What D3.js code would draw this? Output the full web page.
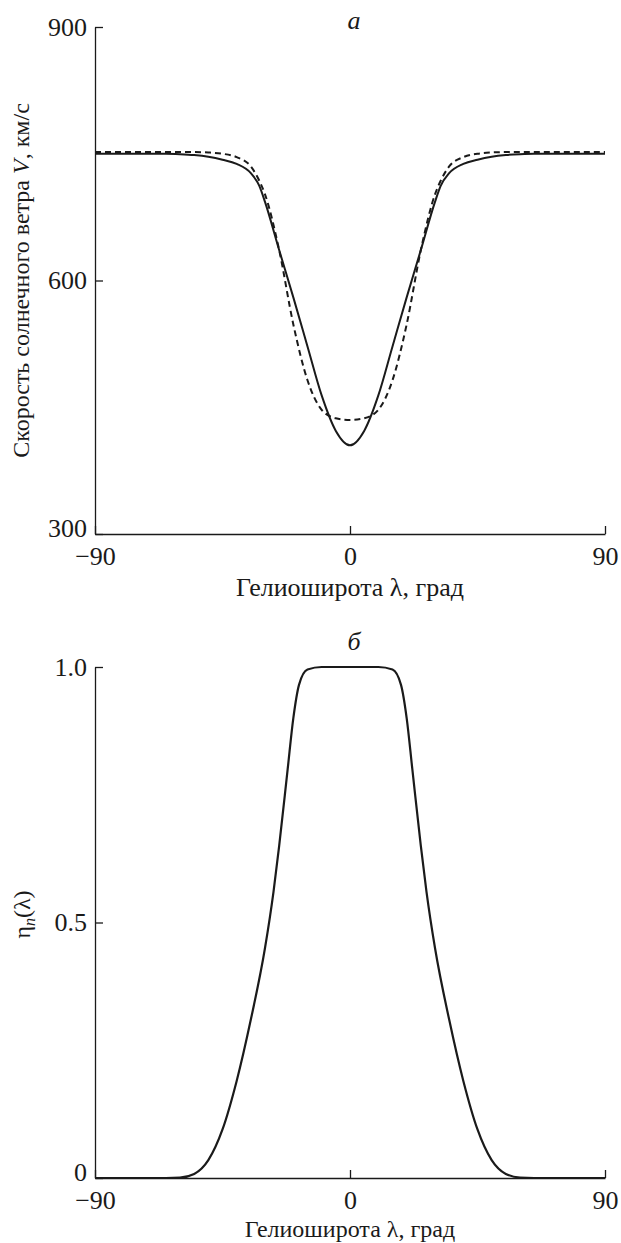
<!DOCTYPE html>
<html>
<head>
<meta charset="utf-8">
<style>
  body { margin: 0; background: #fff; }
  .axis path, .axis line { stroke: #1a1a1a; stroke-width: 1.3; }
</style>
</head>
<body>
<div id="chart"></div>
<script src="https://d3js.org/d3.v7.min.js"></script>
<script>
  // широта, град
  const lat = [-90, -80, -70, -65, -60, -55, -50, -45, -40, -35, -32, -30, -25, -20, -15, -10, -5, 0,
               5, 10, 15, 20, 25, 30, 32, 35, 40, 45, 50, 55, 60, 65, 70, 80, 90];
  // скорость V, км/с (сплошная)
  const vSolid = [750, 750, 750, 750, 749.5, 748.5, 746.5, 743, 738, 727, 712, 693, 636, 580, 522, 464, 422, 405,
                  422, 464, 522, 580, 636, 693, 712, 727, 738, 743, 746.5, 748.5, 749.5, 750, 750, 750, 750];
  // скорость V, км/с (штриховая)
  const vDashed = [752, 752, 752, 752, 752, 752, 751.5, 750, 746, 735, 718, 702, 636, 548, 482, 447, 437, 435,
                   437, 447, 482, 548, 636, 702, 718, 735, 746, 750, 751.5, 752, 752, 752, 752, 752, 752];
  // eta_n(lambda)
  const latEta = [-90, -80, -70, -60, -55, -50, -45, -40, -35, -30, -27, -25, -22, -20, -18, -15, -10, 0,
                  10, 15, 18, 20, 22, 25, 27, 30, 35, 40, 45, 50, 55, 60, 70, 80, 90];
  const eta = [0, 0, 0, 0.001, 0.008, 0.035, 0.095, 0.19, 0.31, 0.45, 0.56, 0.65, 0.8, 0.9, 0.965, 0.995, 1, 1,
               1, 0.995, 0.965, 0.9, 0.8, 0.65, 0.56, 0.45, 0.31, 0.19, 0.095, 0.035, 0.008, 0.001, 0, 0, 0];

  const xTicks = [-90, 0, 90];
  const vTicks = [300, 600, 900];
  const etaTicks = [0, 0.5, 1.0];

  const serif = '"Liberation Serif", "Times New Roman", "DejaVu Serif", serif';

  const width = 621, height = 1243;
  const svg = d3.select('#chart')
    .append('svg')
    .attr('width', width)
    .attr('height', height);

  const left = 95, right = 605;

  function panel(top, bottom, yDomain, yTicks, yFmt, letter, letterY, titleGap, titleSize) {
    const x = d3.scaleLinear().domain([-90, 90]).range([left, right]);
    const y = d3.scaleLinear().domain(yDomain).range([bottom, top]);

    const g = svg.append('g');

    g.append('g')
      .attr('class', 'axis')
      .attr('transform', `translate(0, ${bottom})`)
      .call(d3.axisBottom(x).tickValues(xTicks).tickSize(-8).tickSizeOuter(0).tickPadding(12)
        .tickFormat(d => d < 0 ? '\u2212' + Math.abs(d) : d))
      .call(a => a.selectAll('text').attr('dy', '0.72em'));

    g.append('g')
      .attr('class', 'axis yaxis')
      .attr('transform', `translate(${left}, 0)`)
      .call(d3.axisLeft(y).tickValues(yTicks).tickSize(-8).tickSizeOuter(0).tickPadding(8).tickFormat(yFmt));

    g.selectAll('.axis')
      .attr('font-family', serif)
      .attr('font-size', 26);
    g.selectAll('.axis text').attr('fill', '#1a1a1a');
    // нижняя подпись оси Y чуть выше, как в оригинале
    g.selectAll('.yaxis .tick text').filter((d, i) => i === 0).attr('dy', '0.08em');

    // буква панели
    g.append('text')
      .attr('x', x(0) + 4)
      .attr('y', letterY)
      .attr('text-anchor', 'middle')
      .attr('font-family', serif)
      .attr('font-size', 26)
      .attr('font-style', 'italic')
      .attr('fill', '#1a1a1a')
      .text(letter);

    // подпись оси X
    g.append('text')
      .attr('x', x(0))
      .attr('y', bottom + titleGap)
      .attr('text-anchor', 'middle')
      .attr('font-family', serif)
      .attr('font-size', titleSize)
      .attr('fill', '#1a1a1a')
      .text('Гелиоширота λ, град');

    return { g, x, y };
  }

  // панель а
  const a = panel(27, 534, [300, 900], vTicks, d3.format('d'), 'а', 29, 62, 26);

  const lineA = d3.line().x((d, i) => a.x(lat[i])).y(d => a.y(d)).curve(d3.curveMonotoneX);

  a.g.append('path')
    .datum(vDashed)
    .attr('d', lineA)
    .attr('fill', 'none')
    .attr('stroke', '#1a1a1a')
    .attr('stroke-width', 2)
    .attr('stroke-dasharray', '6 4');

  a.g.append('path')
    .datum(vSolid)
    .attr('d', lineA)
    .attr('fill', 'none')
    .attr('stroke', '#1a1a1a')
    .attr('stroke-width', 2);

  const yTitleA = a.g.append('text')
    .attr('transform', `translate(29, ${a.y(600)}) rotate(-90)`)
    .attr('text-anchor', 'middle')
    .attr('font-family', serif)
    .attr('font-size', 24)
    .attr('fill', '#1a1a1a');
  yTitleA.append('tspan').text('Скорость солнечного ветра ');
  yTitleA.append('tspan').attr('font-style', 'italic').text('V');
  yTitleA.append('tspan').text(', км/с');

  // панель б
  const b = panel(667, 1178, [0, 1], etaTicks, d3.format('.1~f'), 'б', 650, 59, 24);
  b.g.selectAll('.axis text').filter(d => d === 0.5 || d === 1).text(d => d3.format('.1f')(d));

  const lineB = d3.line().x((d, i) => b.x(latEta[i])).y(d => b.y(d)).curve(d3.curveMonotoneX);

  b.g.append('path')
    .datum(eta)
    .attr('d', lineB)
    .attr('fill', 'none')
    .attr('stroke', '#1a1a1a')
    .attr('stroke-width', 2.2);

  const yTitleB = b.g.append('text')
    .attr('transform', `translate(30, ${b.y(0.5) - 8}) rotate(-90)`)
    .attr('text-anchor', 'middle')
    .attr('font-family', serif)
    .attr('font-size', 24)
    .attr('fill', '#1a1a1a');
  yTitleB.append('tspan').text('η');
  yTitleB.append('tspan').attr('font-style', 'italic').attr('font-size', 16).attr('dy', 5).text('n');
  yTitleB.append('tspan').attr('dy', -5).text('(λ)');
</script>
</body>
</html>
